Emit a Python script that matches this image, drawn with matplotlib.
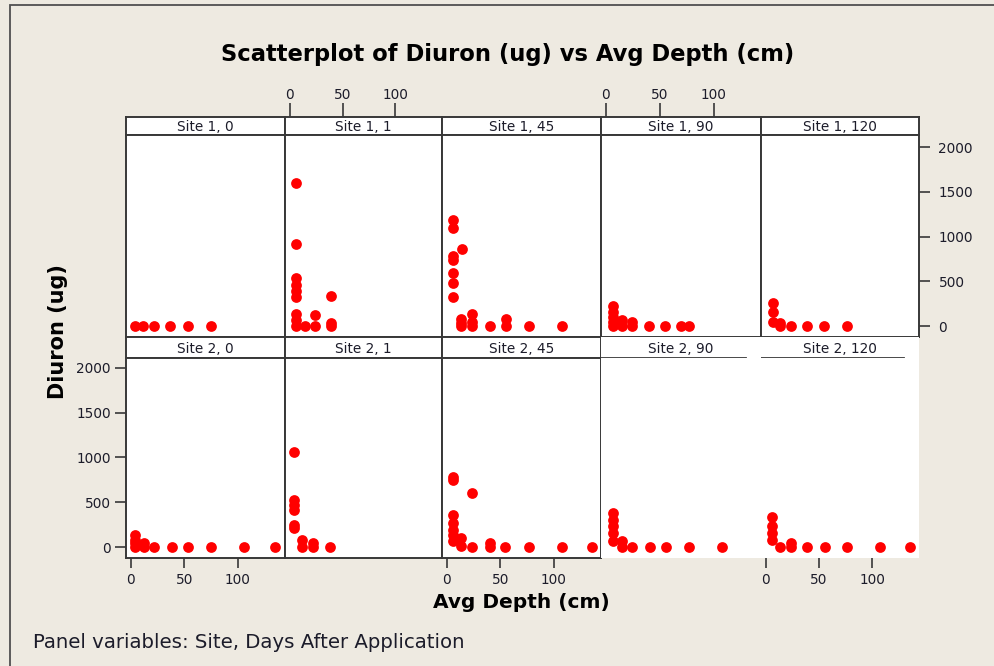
import matplotlib
matplotlib.use("Agg")
import matplotlib.pyplot as plt
from matplotlib.patches import Rectangle

# ---------------- data ----------------
sites = [1, 2]
days = [0, 1, 45, 90, 120]
x_ticks = [0, 50, 100]
y_ticks = [0, 500, 1000, 1500, 2000]

depth_s1_d0 = [4, 11, 22, 37, 53, 75]
diuron_s1_d0 = [0, 0, 0, 0, 0, 0]

depth_s1_d1 = [6, 6, 6, 6, 6, 6, 6, 6, 6, 14, 24, 24, 39, 39, 39]
diuron_s1_d1 = [1600, 920, 540, 460, 390, 320, 140, 70, 5, 5, 125, 5, 340, 35, 5]

depth_s1_d45 = [5.6, 5.6, 14, 5.6, 5.6, 5.6, 5.6, 5.6, 13.4, 13.4, 13.4, 23.4, 23.4, 23.4, 40, 55, 55, 77, 108]
diuron_s1_d45 = [1186, 1093, 865, 787, 738, 589, 477, 321, 75, 30, 0, 134, 48, 0, 0, 75, 0, 0, 0]

depth_s1_d90 = [6.5, 6.5, 6.5, 6.5, 6.5, 15, 15, 24.7, 24.7, 40.4, 55.3, 69.3, 77]
diuron_s1_d90 = [224, 160, 104, 48, 0, 67, 0, 41, 0, 0, 0, 0, 0]

depth_s1_d120 = [6.8, 6.8, 6.8, 13, 13, 24, 39, 55, 76]
diuron_s1_d120 = [254, 160, 48, 30, 0, 0, 0, 0, 0]

depth_s2_d0 = [4, 4, 4, 4, 12, 12, 22, 38, 53, 75, 106, 135]
diuron_s2_d0 = [137, 81, 45, 0, 45, 0, 0, 0, 0, 0, 0, 0]

depth_s2_d1 = [4, 4, 4, 4, 4, 4, 12, 12, 22, 22, 38]
diuron_s2_d1 = [1058, 527, 471, 415, 248, 211, 81, 0, 45, 0, 0]

depth_s2_d45 = [5.6, 5.6, 23.4, 5.6, 5.6, 5.6, 5.6, 5.6, 13.4, 13.4, 23.4, 40, 40, 54.5, 77, 108, 136]
diuron_s2_d45 = [786, 749, 601, 360, 267, 193, 137, 62, 100, 7, 0, 45, 0, 0, 0, 0, 0]

depth_s2_d90 = [6.7, 6.7, 6.7, 6.7, 6.7, 15, 15, 24.5, 40.6, 55.5, 77, 108]
diuron_s2_d90 = [385, 304, 230, 156, 62, 62, 0, 0, 0, 0, 0, 0]

depth_s2_d120 = [6.2, 6.2, 6.2, 6.2, 13, 24, 24, 39, 55.4, 76, 107, 136]
diuron_s2_d120 = [330, 230, 156, 81, 0, 45, 0, 0, 0, 0, 0, 0]

panel_data = {
    (1, 0): (depth_s1_d0, diuron_s1_d0),
    (1, 1): (depth_s1_d1, diuron_s1_d1),
    (1, 45): (depth_s1_d45, diuron_s1_d45),
    (1, 90): (depth_s1_d90, diuron_s1_d90),
    (1, 120): (depth_s1_d120, diuron_s1_d120),
    (2, 0): (depth_s2_d0, diuron_s2_d0),
    (2, 1): (depth_s2_d1, diuron_s2_d1),
    (2, 45): (depth_s2_d45, diuron_s2_d45),
    (2, 90): (depth_s2_d90, diuron_s2_d90),
    (2, 120): (depth_s2_d120, diuron_s2_d120),
}

# ---------------- layout ----------------
W, H = 994, 666
BG = "#EEEAE1"
FRAME = "#383838"
TXT = "#1c1c2a"
plt.rcParams["font.family"] = ["DejaVu Sans"]

fig = plt.figure(figsize=(W / 100, H / 100), dpi=100, facecolor=BG)


def ax_at(x0, y0, x1, y1, **kw):
    return fig.add_axes([x0 / W, 1 - y1 / H, (x1 - x0) / W, (y1 - y0) / H], **kw)


col_edges = [126, 285, 442, 601, 761, 919]
strip_rows = [(117, 135), (337, 358)]
plot_rows = [(135, 337), (358, 558)]
xlim = (-4.5, 144)
ylims = [(-123, 2138), (-122, 2108)]

# figure border
fig.add_artist(Rectangle((10 / W, -0.05), 1.2, 1 - 5 / H + 0.05, transform=fig.transFigure,
                         fill=False, edgecolor="#505050", lw=1.3, clip_on=False))

for r, site in enumerate(sites):
    for c, day in enumerate(days):
        x0, x1 = col_edges[c], col_edges[c + 1]
        glitch = (r == 1 and c >= 3)
        # strip
        sax = ax_at(x0, strip_rows[r][0], x1, strip_rows[r][1])
        sax.set_facecolor("white")
        sax.set_xlim(*xlim)
        sax.set_ylim(0, 1)
        sax.set_yticks([])
        sax.set_xticks([])
        for sp in sax.spines.values():
            sp.set_color(FRAME)
            sp.set_linewidth(1.4)
        if glitch:
            for sp in sax.spines.values():
                sp.set_visible(False)
            sax.axhline(0, xmin=0, xmax=0.9, color=FRAME, lw=2.0)
        sax.text(0.5, 0.45, f"Site {site}, {day}", transform=sax.transAxes,
                 ha="center", va="center", fontsize=9.8, color=TXT)
        if r == 0 and c in (1, 3):
            sax.set_xticks(x_ticks)
            sax.tick_params(axis="x", top=True, labeltop=True, bottom=False, labelbottom=False,
                            length=10, width=1.2, color=FRAME, labelsize=9.8,
                            labelcolor=TXT, pad=1)

        # plot
        ax = ax_at(x0, plot_rows[r][0], x1, plot_rows[r][1])
        ax.set_facecolor("white")
        xs, ys = panel_data[(site, day)]
        ax.scatter(xs, ys, s=60, color="#FF0000", linewidths=0, zorder=3, clip_on=False)
        ax.set_xlim(*xlim)
        ax.set_ylim(*ylims[r])
        ax.set_xticks([])
        ax.set_yticks([])
        for sp in ax.spines.values():
            sp.set_color(FRAME)
            sp.set_linewidth(1.4)
        if glitch:
            for sp in ax.spines.values():
                sp.set_visible(False)
        if r == 1 and c in (0, 2, 4):
            ax.set_xticks(x_ticks)
            ax.tick_params(axis="x", bottom=True, labelbottom=True, length=7, width=1.2,
                           color=FRAME, labelsize=9.8, labelcolor=TXT, pad=4)
        if r == 1 and c == 0:
            ax.set_yticks(y_ticks)
            ax.tick_params(axis="y", left=True, labelleft=True, length=8, width=1.2,
                           color=FRAME, labelsize=9.8, labelcolor=TXT, pad=3)
        if r == 0 and c == 4:
            ax.set_yticks(y_ticks)
            ax.tick_params(axis="y", right=True, labelright=True, left=False, labelleft=False,
                           length=8, width=1.2, color=FRAME, labelsize=9.8, labelcolor=TXT, pad=6)

# titles
fig.text(508 / W, 1 - 55 / H, "Scatterplot of Diuron (ug) vs Avg Depth (cm)", ha="center",
         va="center", fontsize=16.3, fontweight="bold", color="black")
fig.text(521 / W, 1 - 602 / H, "Avg Depth (cm)", ha="center", va="center", fontsize=14.5,
         fontweight="bold", color="black")
fig.text(58 / W, 1 - 332 / H, "Diuron (ug)", ha="center", va="center", rotation=90,
         fontsize=15, fontweight="bold", color="black")
fig.text(33 / W, 1 - 643 / H, "Panel variables: Site, Days After Application", ha="left",
         va="center", fontsize=14.2, color=TXT)

fig.savefig("out.png", dpi=100, facecolor=BG)
